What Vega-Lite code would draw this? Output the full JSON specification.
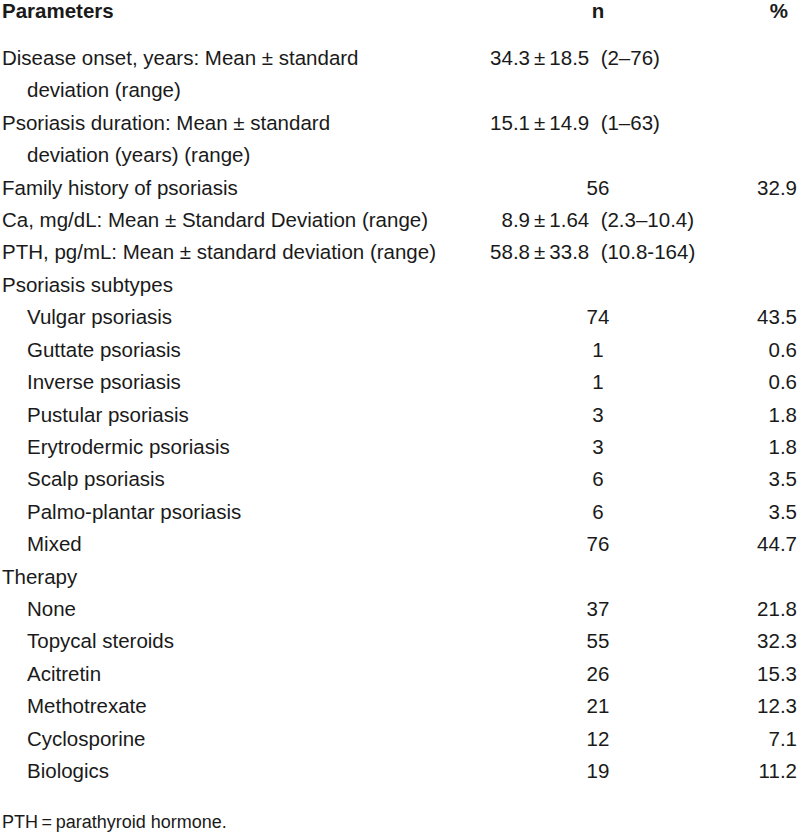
{
  "$schema": "https://vega.github.io/schema/vega-lite/v6.json",
  "width": 800,
  "height": 836,
  "autosize": {"type": "none"},
  "padding": 0,
  "background": "white",
  "config": {
    "view": {"stroke": null},
    "text": {"font": "Liberation Sans", "fontSize": 20.5, "color": "#1a1a1a", "baseline": "middle"}
  },
  "datasets": {
    "rows": [
      {"line": 1, "level": 0, "parameter": "Disease onset, years: Mean ± standard", "mean": "34.3", "sd": "±\u200918.5\u00a0 (2–76)"},
      {"line": 2, "level": 1, "parameter": "deviation (range)"},
      {"line": 3, "level": 0, "parameter": "Psoriasis duration: Mean ± standard", "mean": "15.1", "sd": "±\u200914.9\u00a0 (1–63)"},
      {"line": 4, "level": 1, "parameter": "deviation (years) (range)"},
      {"line": 5, "level": 0, "parameter": "Family history of psoriasis", "n": "56", "pct": "32.9"},
      {"line": 6, "level": 0, "parameter": "Ca, mg/dL: Mean ± Standard Deviation (range)", "mean": "8.9", "sd": "±\u20091.64\u00a0 (2.3–10.4)"},
      {"line": 7, "level": 0, "parameter": "PTH, pg/mL: Mean ± standard deviation (range)", "mean": "58.8", "sd": "±\u200933.8\u00a0 (10.8-164)"},
      {"line": 8, "level": 0, "parameter": "Psoriasis subtypes"},
      {"line": 9, "level": 1, "parameter": "Vulgar psoriasis", "n": "74", "pct": "43.5"},
      {"line": 10, "level": 1, "parameter": "Guttate psoriasis", "n": "1", "pct": "0.6"},
      {"line": 11, "level": 1, "parameter": "Inverse psoriasis", "n": "1", "pct": "0.6"},
      {"line": 12, "level": 1, "parameter": "Pustular psoriasis", "n": "3", "pct": "1.8"},
      {"line": 13, "level": 1, "parameter": "Erytrodermic psoriasis", "n": "3", "pct": "1.8"},
      {"line": 14, "level": 1, "parameter": "Scalp psoriasis", "n": "6", "pct": "3.5"},
      {"line": 15, "level": 1, "parameter": "Palmo-plantar psoriasis", "n": "6", "pct": "3.5"},
      {"line": 16, "level": 1, "parameter": "Mixed", "n": "76", "pct": "44.7"},
      {"line": 17, "level": 0, "parameter": "Therapy"},
      {"line": 18, "level": 1, "parameter": "None", "n": "37", "pct": "21.8"},
      {"line": 19, "level": 1, "parameter": "Topycal steroids", "n": "55", "pct": "32.3"},
      {"line": 20, "level": 1, "parameter": "Acitretin", "n": "26", "pct": "15.3"},
      {"line": 21, "level": 1, "parameter": "Methotrexate", "n": "21", "pct": "12.3"},
      {"line": 22, "level": 1, "parameter": "Cyclosporine", "n": "12", "pct": "7.1"},
      {"line": 23, "level": 1, "parameter": "Biologics", "n": "19", "pct": "11.2"}
    ],
    "header": [{"line": 0, "c1": "Parameters", "c2": "n", "c3": "%"}],
    "note": [{"line": 24, "text": "PTH\u2009=\u2009parathyroid hormone."}]
  },
  "encoding": {
    "y": {"field": "line", "type": "quantitative", "scale": {"domain": [-0.8204, 24.974], "reverse": true, "zero": false, "nice": false}, "axis": null}
  },
  "layer": [
    {
      "data": {"name": "header"},
      "mark": {"type": "text", "fontWeight": "bold", "align": "left", "dy": -14.6},
      "encoding": {"x": {"datum": 2, "type": "quantitative", "scale": {"domain": [0, 800], "zero": false, "nice": false}, "axis": null}, "text": {"field": "c1"}}
    },
    {
      "data": {"name": "header"},
      "mark": {"type": "text", "fontWeight": "bold", "align": "center", "dy": -14.6},
      "encoding": {"x": {"datum": 598, "type": "quantitative"}, "text": {"field": "c2"}}
    },
    {
      "data": {"name": "header"},
      "mark": {"type": "text", "fontWeight": "bold", "align": "right", "dy": -14.6},
      "encoding": {"x": {"datum": 788, "type": "quantitative"}, "text": {"field": "c3"}}
    },
    {
      "data": {"name": "rows"},
      "transform": [{"filter": "datum.level == 0"}],
      "mark": {"type": "text", "align": "left"},
      "encoding": {"x": {"datum": 2, "type": "quantitative"}, "text": {"field": "parameter"}}
    },
    {
      "data": {"name": "rows"},
      "transform": [{"filter": "datum.level == 1"}],
      "mark": {"type": "text", "align": "left"},
      "encoding": {"x": {"datum": 27, "type": "quantitative"}, "text": {"field": "parameter"}}
    },
    {
      "data": {"name": "rows"},
      "transform": [{"filter": "isValid(datum.mean)"}],
      "mark": {"type": "text", "align": "right"},
      "encoding": {"x": {"datum": 530, "type": "quantitative"}, "text": {"field": "mean"}}
    },
    {
      "data": {"name": "rows"},
      "transform": [{"filter": "isValid(datum.sd)"}],
      "mark": {"type": "text", "align": "left"},
      "encoding": {"x": {"datum": 534, "type": "quantitative"}, "text": {"field": "sd"}}
    },
    {
      "data": {"name": "rows"},
      "transform": [{"filter": "isValid(datum.n)"}],
      "mark": {"type": "text", "align": "center"},
      "encoding": {"x": {"datum": 598, "type": "quantitative"}, "text": {"field": "n"}}
    },
    {
      "data": {"name": "rows"},
      "transform": [{"filter": "isValid(datum.pct)"}],
      "mark": {"type": "text", "align": "right"},
      "encoding": {"x": {"datum": 797, "type": "quantitative"}, "text": {"field": "pct"}}
    },
    {
      "data": {"name": "note"},
      "mark": {"type": "text", "align": "left", "dy": 19, "fontSize": 18},
      "encoding": {"x": {"datum": 2, "type": "quantitative"}, "text": {"field": "text"}}
    },
    {
      "data": {"values": [{}]},
      "mark": {"type": "rule", "color": "#222222", "strokeWidth": 2},
      "encoding": {"x": {"datum": 0, "type": "quantitative"}, "x2": {"datum": 800}, "y": {"datum": 0.2, "type": "quantitative"}}
    },
    {
      "data": {"values": [{}]},
      "mark": {"type": "rule", "color": "#222222", "strokeWidth": 2},
      "encoding": {"x": {"datum": 0, "type": "quantitative"}, "x2": {"datum": 800}, "y": {"datum": 23.81, "type": "quantitative"}}
    }
  ]
}
